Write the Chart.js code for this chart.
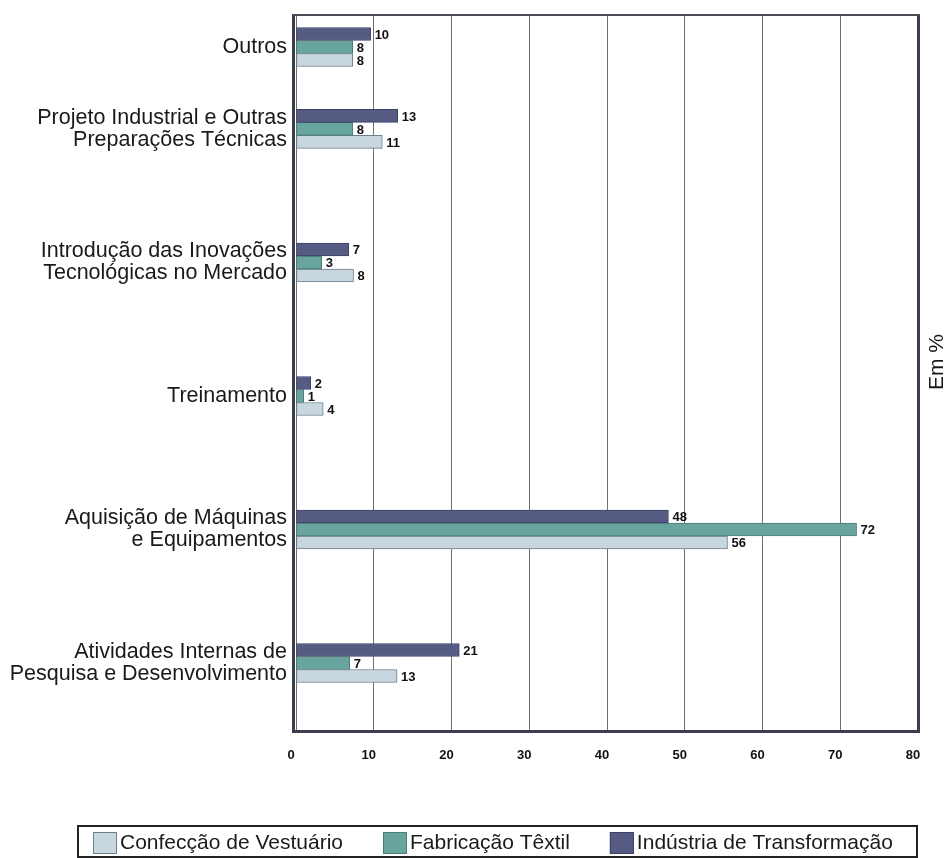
<!DOCTYPE html>
<html>
<head>
<meta charset="utf-8">
<script src="https://cdn.jsdelivr.net/npm/chart.js@4.4.0/dist/chart.umd.min.js"></script>
<style>
  html, body { margin: 0; padding: 0; background: #fff; }
  #wrap { width: 946px; height: 858px; }
</style>
</head>
<body>
<div id="wrap"><canvas id="grafico" width="946" height="858"></canvas></div>
<script>
// categorias, de cima para baixo
const categorias = [
    'Outros',
    ['Projeto Industrial e Outras', 'Preparações Técnicas'],
    ['Introdução das Inovações', 'Tecnológicas no Mercado'],
    'Treinamento',
    ['Aquisição de Máquinas', 'e Equipamentos'],
    ['Atividades Internas de', 'Pesquisa e Desenvolvimento']
];
const series = ['Confecção de Vestuário', 'Fabricação Têxtil', 'Indústria de Transformação'];

// comprimento das barras e rótulos impressos
const confeccao  = [7.3, 11.1, 7.4, 3.5, 55.5, 13.0];
const fabricacao = [7.3, 7.3, 3.3, 1.0, 72.1, 6.9];
const industria  = [9.6, 13.1, 6.8, 1.9, 47.9, 21.0];
const confeccaoRot  = [8, 11, 8, 4, 56, 13];
const fabricacaoRot = [8, 8, 3, 1, 72, 7];
const industriaRot  = [10, 13, 7, 2, 48, 21];
const xTicks = [0, 10, 20, 30, 40, 50, 60, 70, 80];

// posição vertical de cada grupo (layout: "Outros" fica mais perto de "Projeto")
const posLinhas = [4.614, 4, 3, 2, 1, 0];

const cores = {
    conf: { fundo: '#c8d6df', borda: '#6e7f8c' },
    fab:  { fundo: '#69a59f', borda: '#4a7c77' },
    ind:  { fundo: '#565b84', borda: '#3d4065' }
};
const corMoldura = '#3c3e50';
const fonte = "'Liberation Sans', Arial, sans-serif";

function pontos(valores) {
    return valores.map(function(v, i) { return { x: v, y: posLinhas[i] }; });
}

// rótulos numéricos no fim das barras
const rotulosBarras = {
    id: 'rotulosBarras',
    afterDraw: function(chart) {
        const ctx = chart.ctx;
        ctx.save();
        ctx.font = 'bold 13px ' + fonte;
        ctx.fillStyle = '#111';
        ctx.textAlign = 'left';
        ctx.textBaseline = 'middle';
        chart.data.datasets.forEach(function(ds, di) {
            const meta = chart.getDatasetMeta(di);
            meta.data.forEach(function(el, i) {
                ctx.fillText(String(ds.rotulos[i]), el.x + 4, el.y + 1);
            });
        });
        ctx.restore();
    }
};

// moldura da área do gráfico e título "Em %"
const moldura = {
    id: 'moldura',
    afterDraw: function(chart) {
        const a = chart.chartArea;
        const ctx = chart.ctx;
        ctx.save();
        ctx.strokeStyle = corMoldura;
        ctx.lineWidth = 3;
        ctx.beginPath();
        ctx.moveTo(a.left - 2.5, a.top);
        ctx.lineTo(a.left - 2.5, a.bottom + 3);
        ctx.moveTo(a.left - 4, a.bottom + 1.5);
        ctx.lineTo(a.right + 2, a.bottom + 1.5);
        ctx.moveTo(a.right + 0.5, a.top);
        ctx.lineTo(a.right + 0.5, a.bottom + 3);
        ctx.stroke();
        ctx.lineWidth = 2;
        ctx.strokeStyle = '#4a4a55';
        ctx.beginPath();
        ctx.moveTo(a.left - 4, a.top + 1);
        ctx.lineTo(a.right + 2, a.top + 1);
        ctx.stroke();

        ctx.translate(a.right + 19, (a.top + a.bottom) / 2 - 10);
        ctx.rotate(-Math.PI / 2);
        ctx.font = '21px ' + fonte;
        ctx.fillStyle = '#1a1a1a';
        ctx.textAlign = 'center';
        ctx.textBaseline = 'middle';
        ctx.fillText('Em %', 0, 0);
        ctx.restore();
    }
};

// legenda com moldura, na parte de baixo
const legendaMoldura = {
    id: 'legendaMoldura',
    afterDraw: function(chart) {
        const ctx = chart.ctx;
        const ordem = [
            { nome: series[0], c: cores.conf },
            { nome: series[1], c: cores.fab },
            { nome: series[2], c: cores.ind }
        ];
        ctx.save();
        ctx.strokeStyle = '#222';
        ctx.lineWidth = 2;
        ctx.strokeRect(78, 826, 839, 31);
        ctx.font = '21px ' + fonte;
        ctx.textBaseline = 'middle';
        ctx.textAlign = 'left';
        let x = 93;
        ordem.forEach(function(it) {
            ctx.fillStyle = it.c.fundo;
            ctx.fillRect(x, 832, 24, 22);
            ctx.strokeStyle = it.c.borda;
            ctx.lineWidth = 1;
            ctx.strokeRect(x + 0.5, 832.5, 23, 21);
            ctx.fillStyle = '#1a1a1a';
            ctx.fillText(it.nome, x + 27, 843);
            x += 27 + ctx.measureText(it.nome).width + 40;
        });
        ctx.restore();
    }
};

const ctx = document.getElementById('grafico').getContext('2d');
const grafico = new Chart(ctx, {
    type: 'bar',
    data: {
        datasets: [
            {
                label: series[2],
                data: pontos(industria),
                rotulos: industriaRot,
                backgroundColor: cores.ind.fundo,
                borderColor: cores.ind.borda
            },
            {
                label: series[1],
                data: pontos(fabricacao),
                rotulos: fabricacaoRot,
                backgroundColor: cores.fab.fundo,
                borderColor: cores.fab.borda
            },
            {
                label: series[0],
                data: pontos(confeccao),
                rotulos: confeccaoRot,
                backgroundColor: cores.conf.fundo,
                borderColor: cores.conf.borda
            }
        ]
    },
    options: {
        indexAxis: 'y',
        responsive: false,
        animation: false,
        devicePixelRatio: 1,
        layout: {
            padding: { top: 14, right: 28, bottom: 88, left: 0 }
        },
        datasets: {
            bar: {
                barThickness: 13,
                borderWidth: 1,
                borderSkipped: false,
                grouped: true
            }
        },
        scales: {
            x: {
                type: 'linear',
                position: 'bottom',
                min: 0,
                max: 80,
                z: 1,
                afterBuildTicks: function(scale) {
                    scale.ticks = xTicks.map(function(v) { return { value: v }; });
                },
                afterFit: function(scale) {
                    scale.height = 40;
                    scale.paddingLeft = 0;
                    scale.paddingRight = 0;
                },
                grid: { color: '#707070', lineWidth: 1, drawTicks: false },
                border: { display: false },
                ticks: {
                    padding: 18,
                    labelOffset: -5,
                    color: '#111',
                    font: { family: fonte, size: 13, weight: 'bold' }
                }
            },
            y: {
                type: 'linear',
                position: 'left',
                min: -0.502,
                max: 4.861,
                offset: false,
                afterBuildTicks: function(scale) {
                    scale.ticks = posLinhas.map(function(v) { return { value: v }; });
                },
                afterFit: function(scale) {
                    scale.width = 296;
                    scale.paddingTop = 0;
                    scale.paddingBottom = 0;
                },
                grid: { display: false, drawTicks: false, offset: false },
                border: { display: false },
                ticks: {
                    autoSkip: false,
                    padding: 9,
                    color: '#1a1a1a',
                    font: { family: fonte, size: 21.5, lineHeight: 1.02 },
                    callback: function(valor) {
                        const i = posLinhas.indexOf(valor);
                        return i >= 0 ? categorias[i] : '';
                    }
                }
            }
        },
        plugins: {
            legend: { display: false },
            tooltip: { enabled: false }
        }
    },
    plugins: [rotulosBarras, moldura, legendaMoldura]
});
</script>
</body>
</html>
